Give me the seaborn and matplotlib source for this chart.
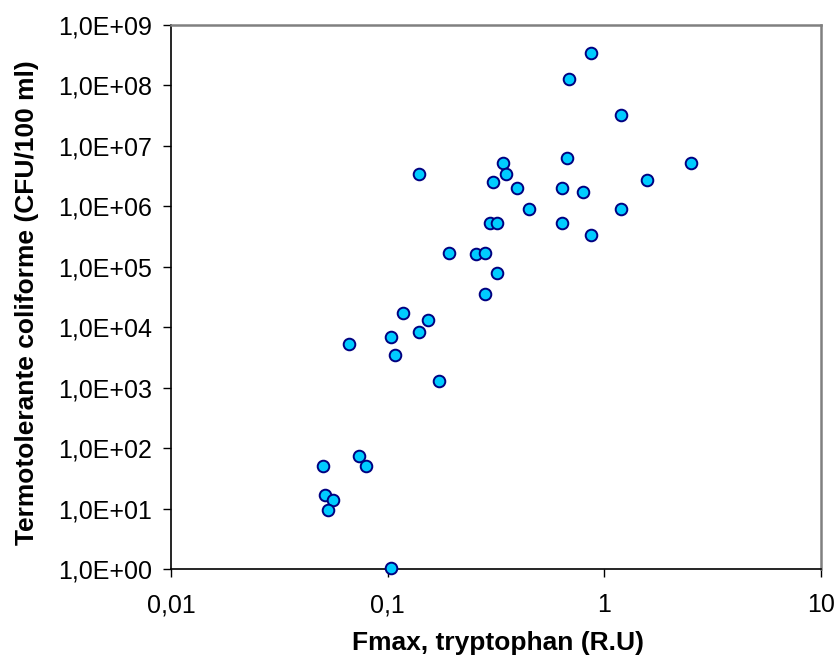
import matplotlib
matplotlib.use("Agg")
import matplotlib.pyplot as plt
import seaborn as sns
import pandas as pd
from matplotlib.ticker import FixedLocator, FixedFormatter, NullLocator

# Data
fmax_tryptophan = [0.865, 0.685, 1.19, 0.67, 0.341, 2.5, 0.139, 0.353, 0.305, 1.57,
                   0.394, 0.641, 0.794, 0.448, 1.19, 0.297, 0.319, 0.641, 0.865, 0.192,
                   0.257, 0.281, 0.319, 0.281, 0.118, 0.154, 0.139, 0.104, 0.0663, 0.108,
                   0.172, 0.0738, 0.0501, 0.0798, 0.0513, 0.0558, 0.0533, 0.104]
coliform = [3.5e8, 1.3e8, 3.3e7, 6.2e6, 5.2e6, 5.3e6, 3.4e6, 3.4e6, 2.5e6, 2.7e6,
            2.0e6, 2.0e6, 1.7e6, 9.2e5, 9.2e5, 5.4e5, 5.4e5, 5.4e5, 3.4e5, 1.7e5,
            1.6e5, 1.7e5, 8.0e4, 3.5e4, 1.7e4, 1.3e4, 8.2e3, 7.0e3, 5.2e3, 3.5e3,
            1.3e3, 73, 50, 50, 17, 13.8, 9.4, 1.03]

x_ticks = [0.01, 0.1, 1, 10]
x_tick_labels = ["0,01", "0,1", "1", "10"]
y_ticks = [1e0, 1e1, 1e2, 1e3, 1e4, 1e5, 1e6, 1e7, 1e8, 1e9]
y_tick_labels = ["1,0E+00", "1,0E+01", "1,0E+02", "1,0E+03", "1,0E+04",
                 "1,0E+05", "1,0E+06", "1,0E+07", "1,0E+08", "1,0E+09"]

x_title = "Fmax, tryptophan (R.U)"
y_title = "Termotolerante coliforme (CFU/100 ml)"

df = pd.DataFrame({"x": fmax_tryptophan, "y": coliform})

sns.set_style("white")
plt.rcParams["font.family"] = ["Liberation Sans", "DejaVu Sans"]

fig = plt.figure(figsize=(8.38, 6.68), dpi=100)
ax = fig.add_axes([171 / 838, 1 - 569 / 668, (821 - 171) / 838, (569 - 25) / 668])

sns.scatterplot(data=df, x="x", y="y", ax=ax, s=70, color="#00CCFF",
                edgecolor="#000080", linewidth=1.4, zorder=3, legend=False,
                clip_on=False)

ax.set_xscale("log")
ax.set_yscale("log")
ax.set_xlim(0.01, 10)
ax.set_ylim(1, 1e9)

ax.xaxis.set_major_locator(FixedLocator(x_ticks))
ax.xaxis.set_major_formatter(FixedFormatter(x_tick_labels))
ax.xaxis.set_minor_locator(NullLocator())
ax.yaxis.set_major_locator(FixedLocator(y_ticks))
ax.yaxis.set_major_formatter(FixedFormatter(y_tick_labels))
ax.yaxis.set_minor_locator(NullLocator())

ax.tick_params(axis="both", which="major", direction="out", length=6, width=1.0,
               color="black", labelsize=18, labelcolor="black")
ax.tick_params(axis="x", bottom=True, pad=11.5)
ax.tick_params(axis="y", left=True, pad=7.5)

for side in ["left", "bottom"]:
    ax.spines[side].set_color("black")
    ax.spines[side].set_linewidth(1.2)
for side in ["top", "right"]:
    ax.spines[side].set_color("#808080")
    ax.spines[side].set_linewidth(1.8)
    ax.spines[side].set_visible(True)

ax.set_xlabel(x_title, fontsize=19, fontweight="bold", va="center", color="black")
ax.set_ylabel(y_title, fontsize=19, fontweight="bold", va="center", color="black")
ax.xaxis.set_label_coords(0.503, (569 - 643) / 544)
ax.yaxis.set_label_coords((27 - 171) / 650, 0.49)

ax.grid(False)
ax.set_facecolor("white")
fig.patch.set_facecolor("white")

fig.savefig("out.png", dpi=100)
